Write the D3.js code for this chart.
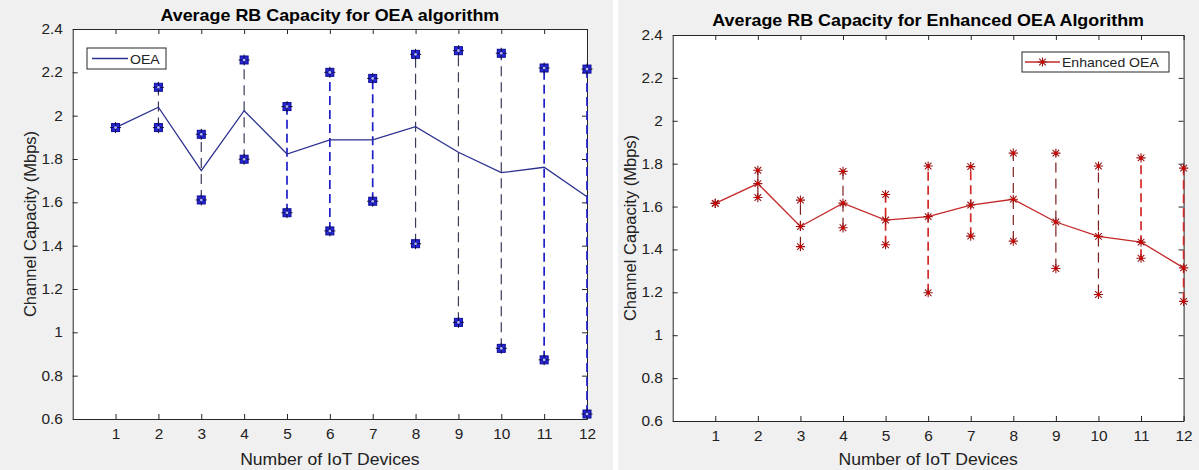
<!DOCTYPE html>
<html>
<head>
<meta charset="utf-8">
<script src="https://cdn.jsdelivr.net/npm/d3@7"></script>
<style>
  body { margin: 0; background: #ffffff; }
  svg { display: block; }
  text { font-family: "Liberation Sans", Arial, Helvetica, sans-serif; fill: #222222; }
</style>
</head>
<body>
<svg id="fig" width="1199" height="470"></svg>
<script>
// Number of IoT devices on the x axis
const devices = [1, 2, 3, 4, 5, 6, 7, 8, 9, 10, 11, 12];

// OEA algorithm: average RB capacity (Mbps) with lower / upper bounds
const oeaMean = [1.945, 2.039, 1.746, 2.023, 1.823, 1.888, 1.888, 1.949, 1.831, 1.737, 1.762, 1.626];
const oeaLow  = [1.945, 1.945, 1.611, 1.799, 1.552, 1.468, 1.605, 1.409, 1.046, 0.926, 0.873, 0.623];
const oeaHigh = [1.945, 2.131, 1.914, 2.257, 2.042, 2.200, 2.172, 2.283, 2.300, 2.288, 2.220, 2.215];

// Enhanced OEA algorithm: average RB capacity (Mbps) with lower / upper bounds
const enhMean = [1.615, 1.707, 1.507, 1.616, 1.537, 1.553, 1.607, 1.634, 1.528, 1.461, 1.434, 1.314];
const enhLow  = [1.615, 1.642, 1.413, 1.501, 1.422, 1.198, 1.462, 1.439, 1.311, 1.190, 1.359, 1.158];
const enhHigh = [1.615, 1.769, 1.630, 1.764, 1.656, 1.789, 1.786, 1.849, 1.849, 1.789, 1.827, 1.779];

// Axis ticks
const xTicks = [1, 2, 3, 4, 5, 6, 7, 8, 9, 10, 11, 12];
const yTicks = [0.6, 0.8, 1.0, 1.2, 1.4, 1.6, 1.8, 2.0, 2.2, 2.4];

const W = 1199, H = 470;
const TEXT_STRETCH = 1.1;   // slightly wide glyphs, as in the screen-rendered figure font
const svg = d3.select("#fig");

// Two figure panels with a thin white gap between them
svg.append("rect").attr("x", 0).attr("y", 0).attr("width", 613).attr("height", H).attr("fill", "#f0f0f0");
svg.append("rect").attr("x", 618).attr("y", 0).attr("width", W - 618).attr("height", H).attr("fill", "#f0f0f0");

// Error bars drawn with the heavier coloured dash style
const heavyBars = new Set([5, 6, 7, 11, 12]);

function squareMarker(g, cx, cy) {
  const m = g.append("g");
  m.append("rect").attr("x", cx - 4).attr("y", cy - 4).attr("width", 8).attr("height", 8)
    .attr("fill", "#2626d6").attr("stroke", "#0c0c96").attr("stroke-width", 1);
  m.append("path").attr("d", `M${cx - 5.5},${cy}H${cx + 5.5}M${cx},${cy - 5.5}V${cy + 5.5}`)
    .attr("stroke", "#121245").attr("stroke-width", 1);
  m.append("circle").attr("cx", cx).attr("cy", cy).attr("r", 1.3).attr("fill", "#b8beff");
}

function starMarker(g, cx, cy) {
  const r = 4.6, d = r * 0.72;
  const m = g.append("g");
  m.append("path")
    .attr("d", `M${cx - r},${cy}H${cx + r}M${cx},${cy - r}V${cy + r}` +
               `M${cx - d},${cy - d}L${cx + d},${cy + d}M${cx - d},${cy + d}L${cx + d},${cy - d}`)
    .attr("stroke", "#9a1414").attr("stroke-width", 1.1).attr("fill", "none");
  m.append("circle").attr("cx", cx).attr("cy", cy).attr("r", 1.6).attr("fill", "#d40000");
}

// horizontal text with a small horizontal stretch about its anchor point
function stretchedText(parent, x, y, str, size, anchor, bold, sx) {
  const t = parent.append("g").attr("transform", `translate(${x},${y}) scale(${sx || TEXT_STRETCH},1)`)
    .append("text").attr("text-anchor", anchor).attr("font-size", size).text(str);
  if (bold) t.attr("font-weight", "bold").style("fill", "#000");
  return t;
}

const panels = [
  {
    box: { left: 72.7, right: 587, top: 29, bottom: 419 },
    title: "Average RB Capacity for OEA algorithm", titleY: 21,
    mean: oeaMean, low: oeaLow, high: oeaHigh,
    name: "OEA", lineColor: "#2b2f8f", darkBar: "#3b3b58", heavyBar: "#1f1fc8",
    marker: squareMarker, meanMarkers: false,
    legend: { x: 87, y: 48, w: 79, h: 21, lineFrom: 92, lineTo: 128 },
    ylabelX: 30
  },
  {
    box: { left: 672.7, right: 1183.6, top: 35, bottom: 421 },
    title: "Average RB Capacity for Enhanced OEA Algorithm", titleY: 26,
    mean: enhMean, low: enhLow, high: enhHigh,
    name: "Enhanced OEA", lineColor: "#c42828", darkBar: "#7c1e1e", heavyBar: "#d42a2a",
    marker: starMarker, meanMarkers: true,
    legend: { x: 1022, y: 52, w: 147, h: 20, lineFrom: 1025, lineTo: 1060 },
    ylabelX: 630
  }
];

const fmt = d => String(+d.toFixed(1));

panels.forEach(p => {
  const b = p.box;
  const x = d3.scaleLinear().domain([0, 12]).range([b.left, b.right]);
  const y = d3.scaleLinear().domain([0.6, 2.4]).range([b.bottom, b.top]);
  const g = svg.append("g");

  // plot area
  g.append("rect").attr("x", b.left).attr("y", b.top)
    .attr("width", b.right - b.left).attr("height", b.bottom - b.top).attr("fill", "#ffffff");

  const styleAxis = (sel, labels) => {
    sel.select(".domain").attr("stroke", "#262626").attr("stroke-width", 1);
    sel.selectAll(".tick line").attr("stroke", "#262626");
    sel.selectAll(".tick text").attr("font-size", labels ? 14 : 0).attr("fill", "#222222")
      .attr("transform", `scale(${TEXT_STRETCH},1)`);
  };

  g.append("g").attr("transform", `translate(0,${b.bottom})`)
    .call(d3.axisBottom(x).tickValues(xTicks).tickSize(-5).tickSizeOuter(0).tickPadding(10).tickFormat(fmt))
    .call(s => styleAxis(s, true));
  g.append("g").attr("transform", `translate(0,${b.top})`)
    .call(d3.axisTop(x).tickValues(xTicks).tickSize(-5).tickSizeOuter(0).tickFormat(""))
    .call(s => styleAxis(s, false));
  g.append("g").attr("transform", `translate(${b.left},0)`)
    .call(d3.axisLeft(y).tickValues(yTicks).tickSize(-5).tickSizeOuter(0).tickPadding(9).tickFormat(fmt))
    .call(s => styleAxis(s, true));
  g.append("g").attr("transform", `translate(${b.right},0)`)
    .call(d3.axisRight(y).tickValues(yTicks).tickSize(-5).tickSizeOuter(0).tickFormat(""))
    .call(s => styleAxis(s, false));

  // vertical error bars
  devices.forEach((dv, i) => {
    const heavy = heavyBars.has(dv);
    g.append("line")
      .attr("x1", x(dv)).attr("x2", x(dv))
      .attr("y1", y(p.low[i])).attr("y2", y(p.high[i]))
      .attr("stroke", heavy ? p.heavyBar : p.darkBar)
      .attr("stroke-width", heavy ? 1.7 : 1.2)
      .attr("stroke-dasharray", heavy ? "9,5" : "10,6");
  });

  // mean capacity line
  g.append("path")
    .datum(devices.map((dv, i) => [dv, p.mean[i]]))
    .attr("fill", "none").attr("stroke", p.lineColor).attr("stroke-width", 1.3)
    .attr("d", d3.line().x(d => x(d[0])).y(d => y(d[1])));

  // bound markers
  devices.forEach((dv, i) => {
    p.marker(g, x(dv), y(p.high[i]));
    if (p.low[i] !== p.high[i]) p.marker(g, x(dv), y(p.low[i]));
    if (p.meanMarkers) p.marker(g, x(dv), y(p.mean[i]));
  });

  // title
  stretchedText(g, (b.left + b.right) / 2, p.titleY, p.title, 16, "middle", true, 1.12);

  // axis labels
  stretchedText(g, (b.left + b.right) / 2, 465, "Number of IoT Devices", 16, "middle", false);
  g.append("text")
    .attr("transform", `translate(${p.ylabelX},${(b.top + b.bottom) / 2}) rotate(-90)`)
    .attr("text-anchor", "middle").attr("dy", "0.35em").attr("font-size", 16.5)
    .text("Channel Capacity (Mbps)");

  // legend
  const L = p.legend;
  const lg = g.append("g");
  lg.append("rect").attr("x", L.x).attr("y", L.y).attr("width", L.w).attr("height", L.h)
    .attr("fill", "#ffffff").attr("stroke", "#262626").attr("stroke-width", 1);
  const ly = L.y + L.h / 2;
  lg.append("line").attr("x1", L.lineFrom).attr("x2", L.lineTo).attr("y1", ly).attr("y2", ly)
    .attr("stroke", p.lineColor).attr("stroke-width", 1.3);
  if (p.meanMarkers) p.marker(lg, (L.lineFrom + L.lineTo) / 2, ly);
  stretchedText(lg, L.lineTo + 2, ly + 5, p.name, 13.5, "start", false, 1.04);
});
</script>
</body>
</html>
